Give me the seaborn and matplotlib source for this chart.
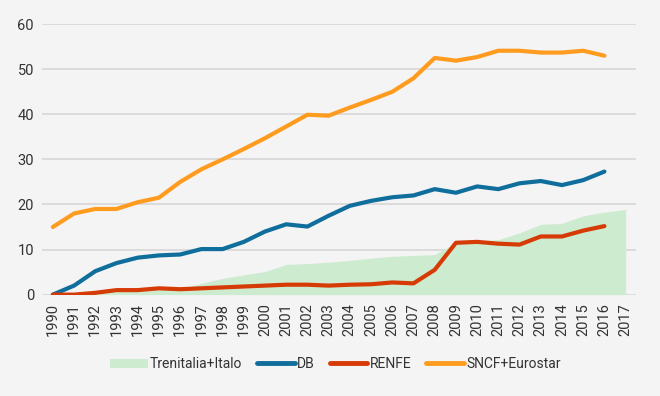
import matplotlib
matplotlib.use("Agg")
import matplotlib.pyplot as plt
import seaborn as sns
import pandas as pd
from matplotlib.patches import Patch
from matplotlib.lines import Line2D
from matplotlib import font_manager

years = list(range(1990, 2018))
years_main = list(range(1990, 2017))

trenitalia = [0.0, 0.0, 0.3, 0.8, 0.9, 1.2, 1.3, 2.5, 3.6, 4.4, 5.1, 6.7, 6.9, 7.2,
              7.6, 8.1, 8.5, 8.7, 8.9, 11.5, 11.9, 12.2, 13.7, 15.6, 15.8, 17.5, 18.3, 18.9]
db = [0.0, 2.0, 5.2, 7.0, 8.2, 8.7, 8.9, 10.1, 10.1, 11.7, 14.0, 15.6, 15.1, 17.5,
      19.7, 20.8, 21.6, 22.0, 23.4, 22.6, 24.0, 23.4, 24.7, 25.2, 24.3, 25.4, 27.3]
renfe = [0.0, 0.0, 0.4, 1.0, 1.0, 1.4, 1.2, 1.4, 1.6, 1.8, 2.0, 2.2, 2.2, 2.0,
         2.2, 2.3, 2.7, 2.5, 5.5, 11.5, 11.7, 11.3, 11.1, 12.9, 12.9, 14.2, 15.2]
sncf = [15.0, 18.0, 19.0, 19.0, 20.5, 21.5, 25.0, 27.8, 30.0, 32.3, 34.7, 37.3, 39.9, 39.7,
        41.5, 43.2, 45.0, 48.0, 52.5, 51.9, 52.7, 54.1, 54.1, 53.7, 53.7, 54.1, 53.0]
yticks = [0, 10, 20, 30, 40, 50, 60]

names = ["Trenitalia+Italo", "DB", "RENFE", "SNCF+Eurostar"]
colors = {"Trenitalia+Italo": "#cdeccf", "DB": "#0f6e9b",
          "RENFE": "#d63a05", "SNCF+Eurostar": "#ff9c20"}

bg = "#f4f4f4"
sns.set_theme(style="white")
avail = {f.name for f in font_manager.fontManager.ttflist}
fam = [f for f in ["Liberation Sans Narrow", "Roboto", "DejaVu Sans"] if f in avail]
plt.rcParams["font.family"] = fam

fig = plt.figure(figsize=(6.6, 3.96), dpi=100, facecolor=bg)
ax = fig.add_axes([0.064, 0.256, 0.9, 0.683])
ax.set_facecolor(bg)

df = pd.DataFrame({"year": years_main, "DB": db, "RENFE": renfe, "SNCF+Eurostar": sncf})
long = df.melt(id_vars="year", var_name="series", value_name="value")

ax.fill_between(years, 0, trenitalia, color=colors["Trenitalia+Italo"], lw=0, zorder=2)
sns.lineplot(data=long, x="year", y="value", hue="series",
             palette=colors, hue_order=["DB", "RENFE", "SNCF+Eurostar"],
             linewidth=3, ax=ax, legend=False, zorder=3)

ax.set_xlim(1989.5, 2017.5)
ax.set_ylim(0, 60)
ax.set_yticks(yticks)
ax.set_xticks(years)
ax.set_xticklabels([str(y) for y in years], rotation=90)
ax.tick_params(axis="both", labelsize=10.5, colors="#333333", length=0, pad=6)
ax.yaxis.grid(True, color="#d6d6d6", lw=1.2, zorder=0)
ax.xaxis.grid(False)
for s in ax.spines.values():
    s.set_visible(False)
ax.set_xlabel("")
ax.set_ylabel("")

handles = [Patch(facecolor=colors["Trenitalia+Italo"], edgecolor="none"),
           Line2D([], [], color=colors["DB"], lw=3.5),
           Line2D([], [], color=colors["RENFE"], lw=3.5),
           Line2D([], [], color=colors["SNCF+Eurostar"], lw=3.5)]
fig.legend(handles, names, loc="center", bbox_to_anchor=(0.508, 0.08), ncol=4,
           frameon=False, fontsize=10, handlelength=2.7, handletextpad=0.15,
           columnspacing=1.1, labelcolor="#333333")

fig.savefig("out.png", dpi=100, facecolor=bg)
